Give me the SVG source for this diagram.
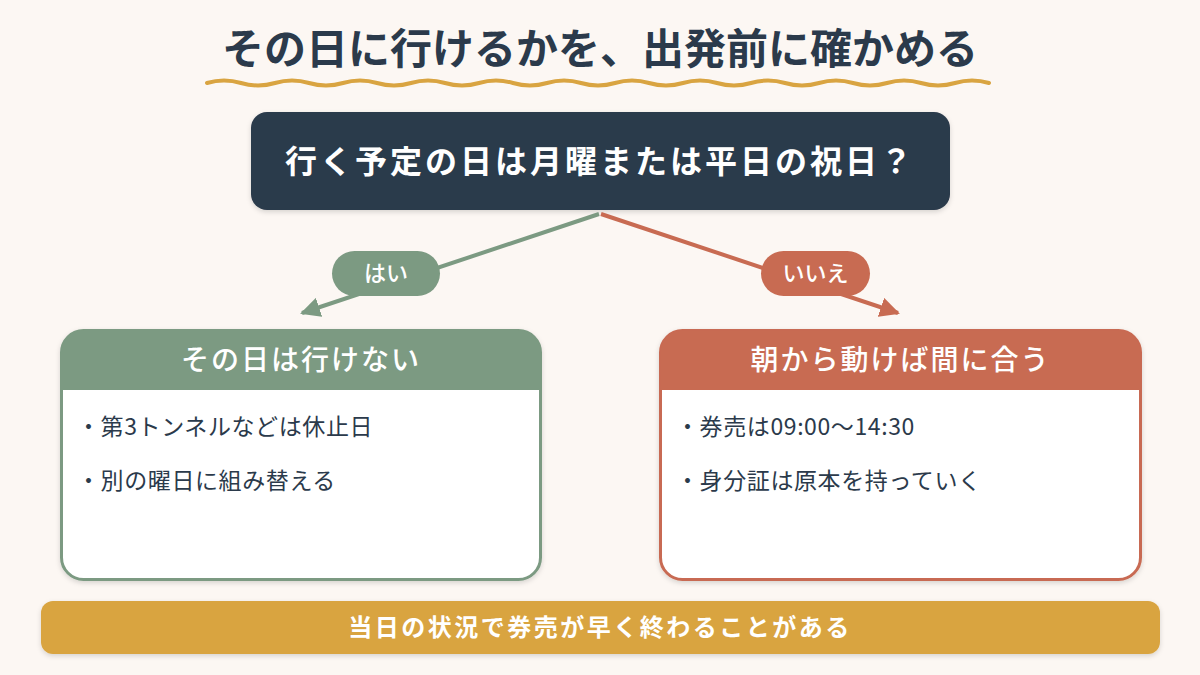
<svg xmlns="http://www.w3.org/2000/svg" width="1200" height="675" viewBox="0 0 1200 675">
  <defs>
    <style>
      text { font-family: "Noto Sans CJK JP", "Noto Sans", sans-serif; }
      .title { font-size: 42px; font-weight: 700; fill: #2b3a4b; }
      .q { font-size: 32px; font-weight: 700; fill: #ffffff; letter-spacing: 3px; }
      .pill { font-size: 22px; font-weight: 500; fill: #ffffff; }
      .hdr { font-size: 28px; font-weight: 500; fill: #ffffff; letter-spacing: 2px; }
      .bul { font-size: 23px; font-weight: 400; fill: #2b3a4b; letter-spacing: 0.6px; }
      .note { font-size: 24px; font-weight: 700; fill: #ffffff; letter-spacing: 2.5px; }
    </style>
    <filter id="sh" x="-10%" y="-10%" width="120%" height="130%">
      <feDropShadow dx="0" dy="2" stdDeviation="2.5" flood-color="#000" flood-opacity="0.15"/>
    </filter>
    <marker id="arrG" viewBox="0 0 10 10" refX="9" refY="5" markerWidth="5" markerHeight="5" orient="auto" markerUnits="strokeWidth">
      <path d="M0,0 L10,5 L0,10 z" fill="#7c9a82"/>
    </marker>
    <marker id="arrR" viewBox="0 0 10 10" refX="9" refY="5" markerWidth="5" markerHeight="5" orient="auto" markerUnits="strokeWidth">
      <path d="M0,0 L10,5 L0,10 z" fill="#c86b52"/>
    </marker>
  </defs>

  <rect x="0" y="0" width="1200" height="675" fill="#fcf7f3"/>

  <g id="title">
    <text class="title" x="600" y="64" text-anchor="middle">その日に行けるかを、出発前に確かめる</text>
    <path d="M207 83 q17 -5 34 0 t34 0 t34 0 t34 0 t34 0 t34 0 t34 0 t34 0 t34 0 t34 0 t34 0 t34 0 t34 0 t34 0 t34 0 t34 0 t34 0 t34 0 t34 0 t34 0 t34 0 t34 0 t34 0" fill="none" stroke="#d9a441" stroke-width="4" stroke-linecap="round"/>
  </g>

  <g id="question">
    <rect x="251" y="112" width="699" height="98" rx="16" fill="#2b3a4b" filter="url(#sh)"/>
    <text class="q" x="600" y="173" text-anchor="middle">行く予定の日は月曜または平日の祝日？</text>
  </g>

  <g id="connectors">
    <line x1="599" y1="214" x2="302" y2="313" stroke="#7c9a82" stroke-width="4" marker-end="url(#arrG)"/>
    <line x1="601" y1="214" x2="898" y2="313" stroke="#c86b52" stroke-width="4" marker-end="url(#arrR)"/>
  </g>

  <g id="label-yes">
    <rect x="332" y="251" width="108" height="45" rx="22.5" fill="#7c9a82"/>
    <text class="pill" x="386" y="281" text-anchor="middle">はい</text>
  </g>
  <g id="label-no">
    <rect x="761" y="251" width="109" height="45" rx="22.5" fill="#c86b52"/>
    <text class="pill" x="815.5" y="281" text-anchor="middle">いいえ</text>
  </g>

  <g id="card-no">
    <rect x="61.5" y="330.5" width="479" height="249" rx="22" fill="#ffffff" stroke="#7c9a82" stroke-width="3" filter="url(#sh)"/>
    <path d="M61.5 390 V352.5 a22 22 0 0 1 22 -22 H518.5 a22 22 0 0 1 22 22 V390 z" fill="#7c9a82"/>
    <text class="hdr" x="301" y="370" text-anchor="middle">その日は行けない</text>
    <text class="bul" x="77" y="435">・第3トンネルなどは休止日</text>
    <text class="bul" x="77" y="489">・別の曜日に組み替える</text>
  </g>

  <g id="card-yes">
    <rect x="660.5" y="330.5" width="480" height="249" rx="22" fill="#ffffff" stroke="#c86b52" stroke-width="3" filter="url(#sh)"/>
    <path d="M660.5 390 V352.5 a22 22 0 0 1 22 -22 H1118.5 a22 22 0 0 1 22 22 V390 z" fill="#c86b52"/>
    <text class="hdr" x="900.5" y="370" text-anchor="middle">朝から動けば間に合う</text>
    <text class="bul" x="676" y="435">・券売は09:00〜14:30</text>
    <text class="bul" x="676" y="489">・身分証は原本を持っていく</text>
  </g>

  <g id="note">
    <rect x="41" y="601" width="1119" height="53" rx="12" fill="#d9a441" filter="url(#sh)"/>
    <text class="note" x="600" y="636" text-anchor="middle">当日の状況で券売が早く終わることがある</text>
  </g>
</svg>
